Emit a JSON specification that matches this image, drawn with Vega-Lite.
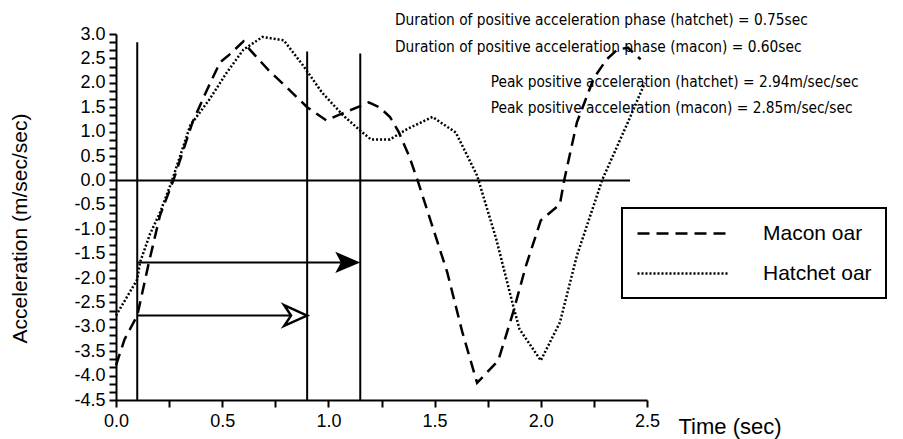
{
  "$schema": "https://vega.github.io/schema/vega-lite/v6.json",
  "width": 531,
  "height": 366,
  "autosize": {"type": "none"},
  "padding": {"left": 116, "top": 34, "right": 256, "bottom": 39},
  "background": "white",
  "config": {
    "view": {"stroke": null},
    "font": "Liberation Sans"
  },
  "datasets": {
    "curves": [
      {"series": "Macon oar", "x": 0.0, "y": -3.79},
      {"series": "Macon oar", "x": 0.04, "y": -3.26},
      {"series": "Macon oar", "x": 0.1, "y": -2.77},
      {"series": "Macon oar", "x": 0.155, "y": -1.68},
      {"series": "Macon oar", "x": 0.207, "y": -0.72},
      {"series": "Macon oar", "x": 0.27, "y": 0.0},
      {"series": "Macon oar", "x": 0.36, "y": 1.19},
      {"series": "Macon oar", "x": 0.43, "y": 1.87},
      {"series": "Macon oar", "x": 0.49, "y": 2.42},
      {"series": "Macon oar", "x": 0.54, "y": 2.6},
      {"series": "Macon oar", "x": 0.6, "y": 2.85},
      {"series": "Macon oar", "x": 0.63, "y": 2.68},
      {"series": "Macon oar", "x": 0.72, "y": 2.25},
      {"series": "Macon oar", "x": 0.81, "y": 1.88},
      {"series": "Macon oar", "x": 0.9, "y": 1.5},
      {"series": "Macon oar", "x": 0.99, "y": 1.23},
      {"series": "Macon oar", "x": 1.08, "y": 1.4},
      {"series": "Macon oar", "x": 1.15, "y": 1.52},
      {"series": "Macon oar", "x": 1.19, "y": 1.6},
      {"series": "Macon oar", "x": 1.24, "y": 1.5},
      {"series": "Macon oar", "x": 1.29, "y": 1.3},
      {"series": "Macon oar", "x": 1.33, "y": 1.0},
      {"series": "Macon oar", "x": 1.38, "y": 0.5},
      {"series": "Macon oar", "x": 1.42, "y": 0.0},
      {"series": "Macon oar", "x": 1.56, "y": -1.89},
      {"series": "Macon oar", "x": 1.63, "y": -3.1},
      {"series": "Macon oar", "x": 1.7, "y": -4.15},
      {"series": "Macon oar", "x": 1.8, "y": -3.69},
      {"series": "Macon oar", "x": 1.87, "y": -2.7},
      {"series": "Macon oar", "x": 1.93, "y": -1.75},
      {"series": "Macon oar", "x": 2.0, "y": -0.82},
      {"series": "Macon oar", "x": 2.09, "y": -0.49},
      {"series": "Macon oar", "x": 2.11, "y": 0.0},
      {"series": "Macon oar", "x": 2.17, "y": 1.19},
      {"series": "Macon oar", "x": 2.25, "y": 2.1},
      {"series": "Macon oar", "x": 2.31, "y": 2.48},
      {"series": "Macon oar", "x": 2.36, "y": 2.68},
      {"series": "Macon oar", "x": 2.41, "y": 2.72},
      {"series": "Macon oar", "x": 2.47, "y": 2.48},
      {"series": "Hatchet oar", "x": 0.0, "y": -2.77},
      {"series": "Hatchet oar", "x": 0.1, "y": -2.03},
      {"series": "Hatchet oar", "x": 0.113, "y": -1.68},
      {"series": "Hatchet oar", "x": 0.16, "y": -1.1},
      {"series": "Hatchet oar", "x": 0.207, "y": -0.66},
      {"series": "Hatchet oar", "x": 0.26, "y": -0.05},
      {"series": "Hatchet oar", "x": 0.35, "y": 1.13},
      {"series": "Hatchet oar", "x": 0.44, "y": 1.66},
      {"series": "Hatchet oar", "x": 0.52, "y": 2.2},
      {"series": "Hatchet oar", "x": 0.6, "y": 2.68},
      {"series": "Hatchet oar", "x": 0.69, "y": 2.94},
      {"series": "Hatchet oar", "x": 0.79, "y": 2.87},
      {"series": "Hatchet oar", "x": 0.88, "y": 2.36},
      {"series": "Hatchet oar", "x": 0.97, "y": 1.8},
      {"series": "Hatchet oar", "x": 1.07, "y": 1.33},
      {"series": "Hatchet oar", "x": 1.15, "y": 1.02},
      {"series": "Hatchet oar", "x": 1.2, "y": 0.84},
      {"series": "Hatchet oar", "x": 1.29, "y": 0.84},
      {"series": "Hatchet oar", "x": 1.37, "y": 1.05},
      {"series": "Hatchet oar", "x": 1.49, "y": 1.3},
      {"series": "Hatchet oar", "x": 1.6, "y": 0.98},
      {"series": "Hatchet oar", "x": 1.7, "y": 0.1},
      {"series": "Hatchet oar", "x": 1.79, "y": -1.2},
      {"series": "Hatchet oar", "x": 1.87, "y": -2.57},
      {"series": "Hatchet oar", "x": 1.9, "y": -3.05},
      {"series": "Hatchet oar", "x": 2.0, "y": -3.69},
      {"series": "Hatchet oar", "x": 2.09, "y": -2.91},
      {"series": "Hatchet oar", "x": 2.17, "y": -1.54},
      {"series": "Hatchet oar", "x": 2.29, "y": 0.02},
      {"series": "Hatchet oar", "x": 2.41, "y": 1.19},
      {"series": "Hatchet oar", "x": 2.49, "y": 2.0}
    ],
    "rules": [
      {"x": 0.1, "x2": 0.1, "y": -4.5, "y2": 2.83},
      {"x": 0.9, "x2": 0.9, "y": -4.5, "y2": 2.64},
      {"x": 1.15, "x2": 1.15, "y": -4.5, "y2": 2.6},
      {"x": 0.0, "x2": 2.42, "y": 0.0, "y2": 0.0},
      {"x": 0.1, "x2": 1.12, "y": -1.68, "y2": -1.68},
      {"x": 0.1, "x2": 0.87, "y": -2.77, "y2": -2.77}
    ],
    "filledHead": [{"x": 1.15, "y": -1.68}],
    "openHead": [{"x": 0.9, "y": -2.77}],
    "notes": [
      {"x": 1.3136, "y": 3.28, "text": "Duration of positive acceleration phase (hatchet) = 0.75sec"},
      {"x": 1.3136, "y": 2.73, "text": "Duration of positive acceleration phase (macon) = 0.60sec"},
      {"x": 1.764, "y": 2.02, "text": "Peak positive acceleration (hatchet) = 2.94m/sec/sec"},
      {"x": 1.764, "y": 1.49, "text": "Peak positive acceleration (macon) = 2.85m/sec/sec"}
    ]
  },
  "encoding": {
    "x": {
      "field": "x",
      "type": "quantitative",
      "scale": {"domain": [0, 2.5], "nice": false, "zero": false},
      "axis": {
        "title": "Time  (sec)",
        "values": [0, 0.25, 0.5, 0.75, 1.0, 1.25, 1.5, 1.75, 2.0, 2.25, 2.5],
        "labelExpr": "abs(datum.value*2 - round(datum.value*2)) < 0.01 ? format(datum.value, '.1f') : ''",
        "grid": false,
        "domainColor": "black",
        "domainWidth": 2,
        "tickColor": "black",
        "tickWidth": 2,
        "tickSize": 7,
        "labelFont": "Liberation Sans",
        "labelFontSize": 18,
        "labelColor": "black",
        "labelPadding": 5,
        "labelFlush": false,
        "labelOverlap": false,
        "titleFont": "Liberation Sans",
        "titleFontSize": 22,
        "titleFontWeight": "normal",
        "titleColor": "black",
        "titleX": 562,
        "titleY": 26,
        "titleAlign": "left",
        "titleBaseline": "middle"
      }
    },
    "y": {
      "field": "y",
      "type": "quantitative",
      "scale": {"domain": [-4.5, 3.0], "nice": false, "zero": false},
      "axis": {
        "title": "Acceleration  (m/sec/sec)",
        "values": [-4.5, -4.3333, -4.1667, -4.0, -3.8333, -3.6667, -3.5, -3.3333, -3.1667, -3.0, -2.8333, -2.6667, -2.5, -2.3333, -2.1667, -2.0, -1.8333, -1.6667, -1.5, -1.3333, -1.1667, -1.0, -0.8333, -0.6667, -0.5, -0.3333, -0.1667, 0, 0.1667, 0.3333, 0.5, 0.6667, 0.8333, 1.0, 1.1667, 1.3333, 1.5, 1.6667, 1.8333, 2.0, 2.1667, 2.3333, 2.5, 2.6667, 2.8333, 3.0],
        "labelExpr": "abs(datum.value*2 - round(datum.value*2)) < 0.01 ? replace(format(datum.value, '.1f'), '\u2212', '-') : ''",
        "grid": false,
        "domainColor": "black",
        "domainWidth": 2,
        "tickColor": "black",
        "tickWidth": 2,
        "tickSize": 7,
        "labelFont": "Liberation Sans",
        "labelFontSize": 18,
        "labelColor": "black",
        "labelPadding": 4,
        "labelFlush": false,
        "labelOverlap": false,
        "titleFont": "Liberation Sans",
        "titleFontSize": 21,
        "titleFontWeight": "normal",
        "titleColor": "black",
        "titleX": -96,
        "titleY": 194,
        "titleAngle": 270,
        "titleAlign": "center",
        "titleBaseline": "middle"
      }
    }
  },
  "layer": [
    {
      "data": {"name": "rules"},
      "mark": {"type": "rule", "color": "black", "strokeWidth": 2},
      "encoding": {
        "x2": {"field": "x2"},
        "y2": {"field": "y2"}
      }
    },
    {
      "data": {"name": "curves"},
      "mark": {"type": "line", "color": "black", "strokeWidth": 2.5, "strokeCap": "butt"},
      "encoding": {
        "strokeDash": {
          "field": "series",
          "type": "nominal",
          "scale": {"domain": ["Macon oar", "Hatchet oar"], "range": [[12, 7], [2, 2]]},
          "legend": {
            "title": null,
            "orient": "none",
            "legendX": 506,
            "legendY": 174,
            "symbolType": "M-1,0 L8,0",
            "symbolSize": 400,
            "symbolStrokeWidth": 2.5,
            "symbolStrokeColor": "black",
            "symbolFillColor": "transparent",
            "labelFont": "Liberation Sans",
            "labelFontSize": 21,
            "labelColor": "black",
            "labelOffset": 104,
            "rowPadding": 18,
            "padding": 14,
            "strokeColor": "black",
            "encode": {"legend": {"update": {"strokeWidth": {"value": 2}}}}
          }
        }
      }
    },
    {
      "data": {"name": "filledHead"},
      "mark": {"type": "point", "shape": "M0,0 L-2,-0.85 L-1.55,0 L-2,0.85 Z", "size": 625, "filled": true, "color": "black", "opacity": 1}
    },
    {
      "data": {"name": "openHead"},
      "mark": {"type": "point", "shape": "M0,0 L-2,-0.9 L-1.4,0 L-2,0.9 Z", "size": 529, "filled": false, "fill": "white", "fillOpacity": 1, "stroke": "black", "strokeWidth": 2.5, "opacity": 1}
    },
    {
      "data": {"name": "notes"},
      "mark": {"type": "text", "align": "left", "baseline": "middle", "font": "DejaVu Sans Condensed, Liberation Sans", "fontSize": 15.3, "color": "black"},
      "encoding": {
        "text": {"field": "text", "type": "nominal"}
      }
    }
  ]
}
